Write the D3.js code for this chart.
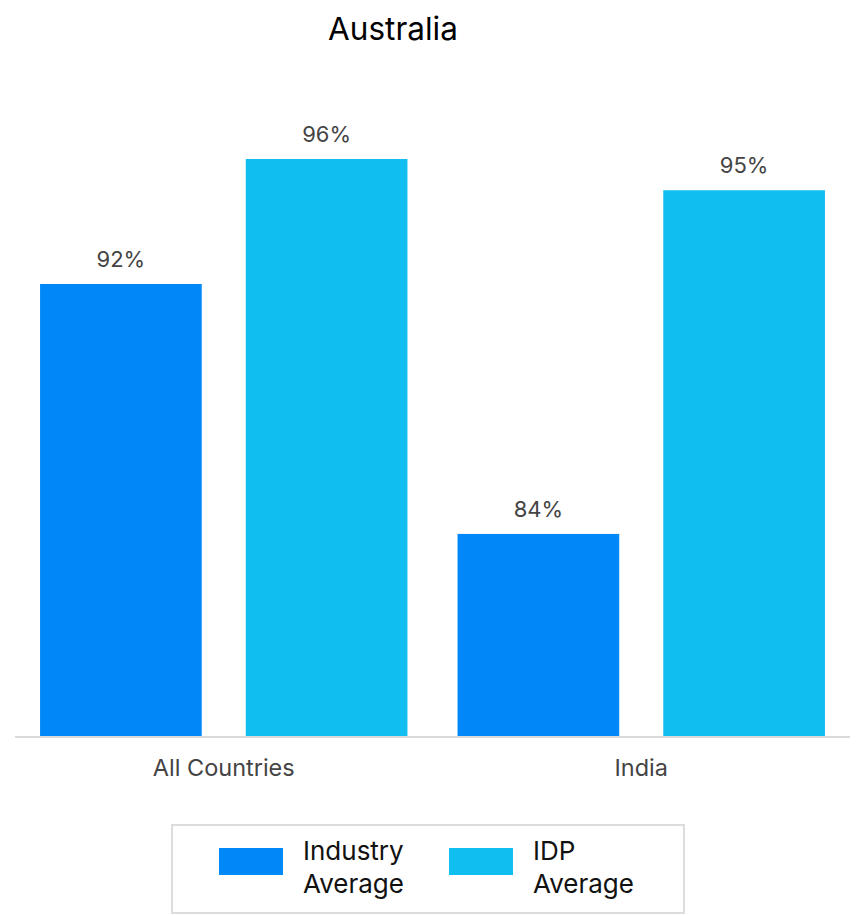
<!DOCTYPE html>
<html>
<head>
<meta charset="utf-8">
<script src="https://cdn.jsdelivr.net/npm/d3@7"></script>
<style>
  html, body { margin: 0; padding: 0; background: #fff; }
  svg { display: block; font-family: Inter, "Noto Sans", sans-serif; }
</style>
</head>
<body>
<svg id="chart" width="858" height="916"></svg>
<script>
// Grouped bars: Industry vs IDP average, per region
const categories = ["All Countries", "India"];
const seriesNames = ["Industry Average", "IDP Average"];
const industryValues = [92, 84];
const idpValues = [96, 95];
const seriesColors = ["#0088f8", "#10bef0"];
const titleText = "Australia";

const svg = d3.select("#chart");

const plot = { left: 15, right: 850, top: 159, bottom: 737 };

const x0 = d3.scaleBand()
  .domain(categories)
  .range([plot.left, plot.right])
  .paddingInner(0.12)
  .paddingOuter(0.06);

const x1 = d3.scaleBand()
  .domain(seriesNames)
  .range([0, x0.bandwidth()])
  .paddingInner(0.214)
  .paddingOuter(0);

const y = d3.scaleLinear()
  .domain([77.5, 96])
  .range([plot.bottom, plot.top]);

const color = d3.scaleOrdinal().domain(seriesNames).range(seriesColors);

const rows = categories.map((c, i) => ({
  category: c,
  values: [
    { series: seriesNames[0], value: industryValues[i] },
    { series: seriesNames[1], value: idpValues[i] }
  ]
}));

// Title
svg.append("text")
  .attr("x", 393)
  .attr("y", 40)
  .attr("text-anchor", "middle")
  .attr("font-size", 31.5)
  .attr("fill", "#000")
  .text(titleText);

// Bars and value labels
const groups = svg.append("g").selectAll("g")
  .data(rows)
  .join("g")
  .attr("transform", d => `translate(${x0(d.category)},0)`);

groups.selectAll("rect")
  .data(d => d.values)
  .join("rect")
  .attr("x", d => x1(d.series))
  .attr("y", d => y(d.value))
  .attr("width", x1.bandwidth())
  .attr("height", d => y.range()[0] - y(d.value))
  .attr("fill", d => color(d.series));

groups.selectAll("text.value")
  .data(d => d.values)
  .join("text")
  .attr("class", "value")
  .attr("x", d => x1(d.series) + x1.bandwidth() / 2)
  .attr("y", d => y(d.value) - 17)
  .attr("text-anchor", "middle")
  .attr("font-size", 22)
  .attr("fill", "#444")
  .text(d => d.value + "%");

// Category axis
const xAxis = svg.append("g")
  .attr("transform", `translate(0,${plot.bottom})`)
  .call(d3.axisBottom(x0).tickSize(0).tickPadding(22));
xAxis.select(".domain").attr("stroke", "#d9d9d9").attr("stroke-width", 2)
  .attr("d", `M${plot.left},0H${plot.right}`);
xAxis.selectAll(".tick text")
  .attr("font-size", 23.5)
  .attr("font-family", "Inter, 'Noto Sans', sans-serif")
  .attr("fill", "#444");

// Legend
const legend = svg.append("g");
legend.append("rect")
  .attr("x", 172).attr("y", 825)
  .attr("width", 512).attr("height", 88)
  .attr("fill", "#fff")
  .attr("stroke", "#dcdcdc")
  .attr("stroke-width", 2);

const legendItems = [
  { series: seriesNames[0], lines: ["Industry", "Average"], sx: 219, tx: 303 },
  { series: seriesNames[1], lines: ["IDP", "Average"], sx: 449, tx: 533 }
];

legendItems.forEach(item => {
  legend.append("rect")
    .attr("x", item.sx).attr("y", 848)
    .attr("width", 64).attr("height", 27)
    .attr("fill", color(item.series));
  const t = legend.append("text")
    .attr("x", item.tx)
    .attr("y", 860)
    .attr("font-size", 26)
    .attr("fill", "#111");
  item.lines.forEach((ln, i) => {
    t.append("tspan").attr("x", item.tx).attr("dy", i === 0 ? 0 : 32.5).text(ln);
  });
});
</script>
</body>
</html>
